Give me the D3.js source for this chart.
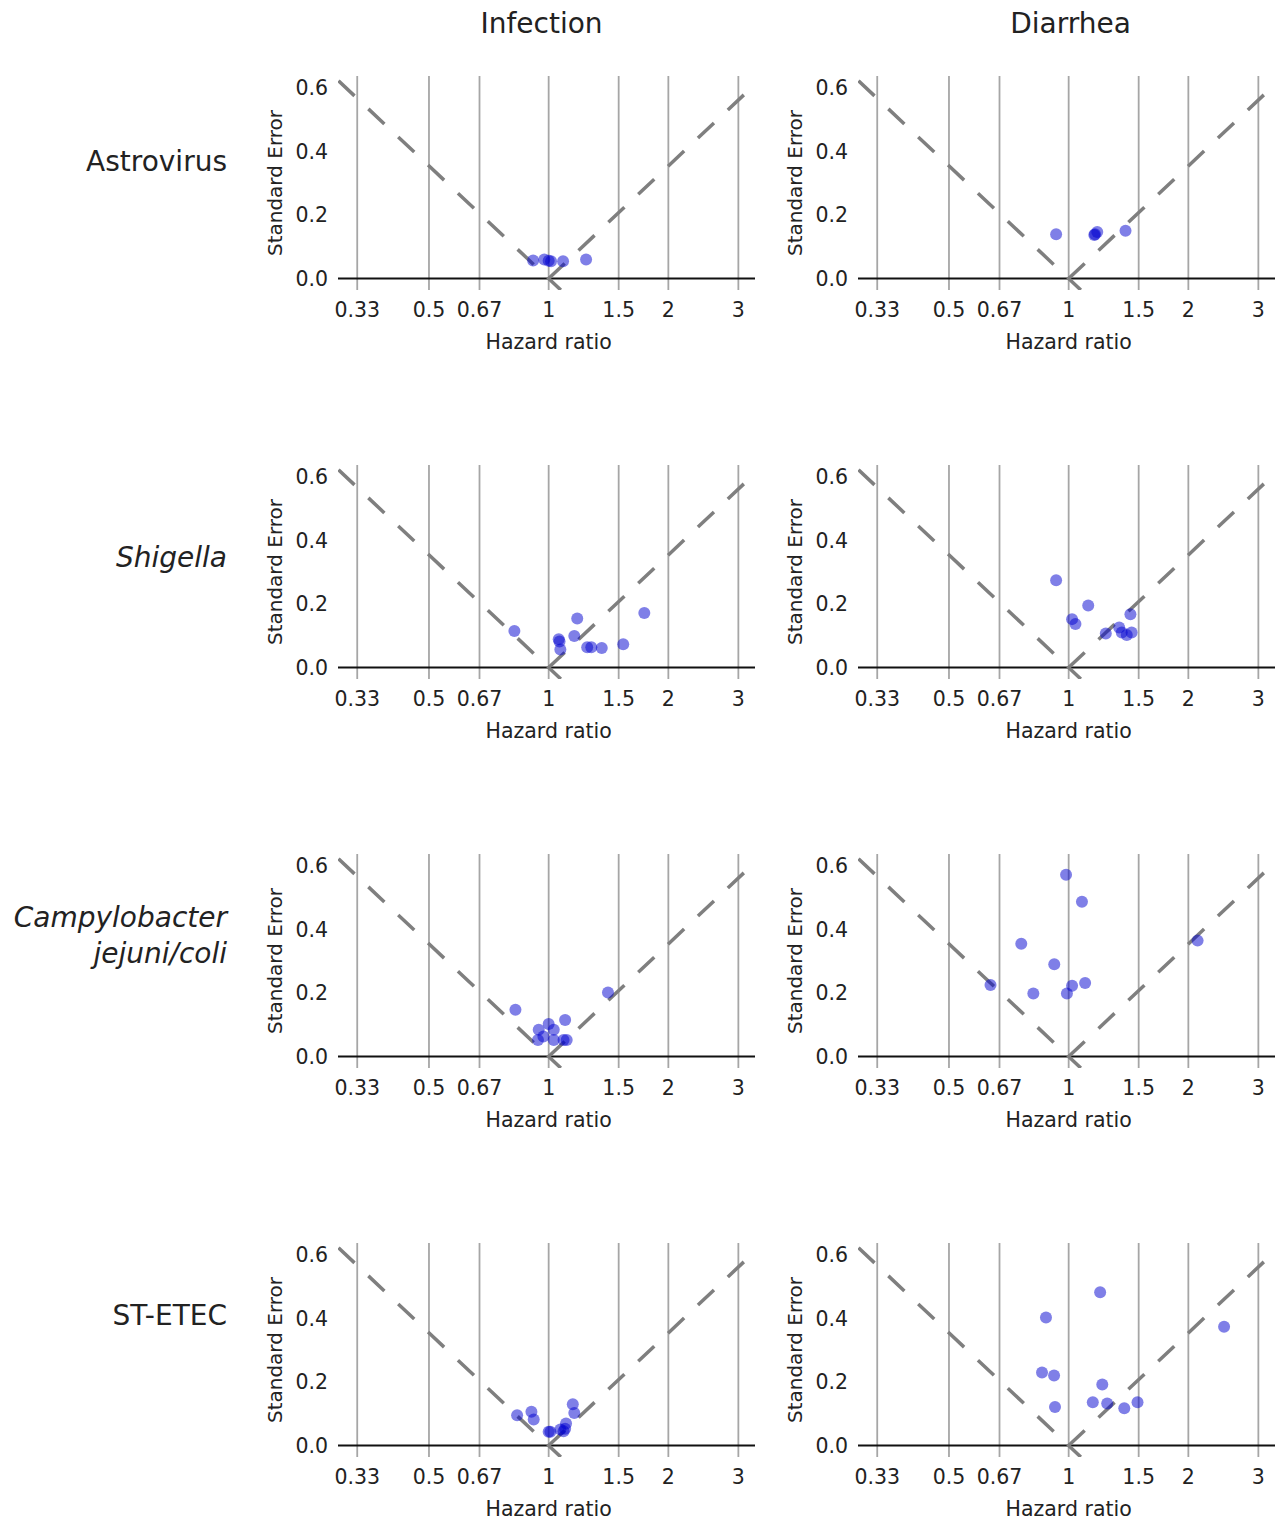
<!DOCTYPE html>
<html>
<head>
<meta charset="utf-8">
<script src="https://cdn.jsdelivr.net/npm/d3@7"></script>
<style>
  body { margin: 0; background: #fff; }
  text { font-family: "DejaVu Sans", Verdana, sans-serif; fill: #222; }
</style>
</head>
<body>
<div id="canvas"></div>
<script>
// rows / columns
var pathogens = [['Astrovirus'], ['Shigella'], ['Campylobacter', 'jejuni/coli'], ['ST-ETEC']];
var italicRow = [false, true, true, false];
var outcomes = ['Infection', 'Diarrhea'];

var xTicks = [0.33, 0.5, 0.67, 1, 1.5, 2, 3];
var xTickLabels = ['0.33', '0.5', '0.67', '1', '1.5', '2', '3'];
var yTicks = [0, 0.2, 0.4, 0.6];

// [hazard ratio, standard error] per panel
var astroInf = [[0.914, 0.057], [0.975, 0.060], [1.0, 0.056], [1.014, 0.054], [1.087, 0.054], [1.242, 0.060]];
var astroDia = [[0.93, 0.139], [1.16, 0.137], [1.165, 0.139], [1.18, 0.146], [1.39, 0.150]];
var shigInf = [[0.82, 0.115], [1.06, 0.089], [1.065, 0.082], [1.07, 0.057], [1.18, 0.154], [1.16, 0.099],
               [1.25, 0.064], [1.28, 0.064], [1.36, 0.061], [1.54, 0.073], [1.74, 0.171]];
var shigDia = [[0.93, 0.274], [1.12, 0.195], [1.02, 0.152], [1.04, 0.137], [1.24, 0.107], [1.34, 0.126],
               [1.36, 0.110], [1.40, 0.102], [1.44, 0.110], [1.43, 0.167]];
var campInf = [[0.825, 0.147], [1.10, 0.115], [1.41, 0.201], [0.944, 0.084], [1.0, 0.102], [1.03, 0.084],
               [0.97, 0.063], [0.94, 0.052], [1.03, 0.052], [1.09, 0.052], [1.11, 0.052]];
var campDia = [[0.985, 0.571], [1.08, 0.486], [0.76, 0.354], [0.92, 0.290], [0.636, 0.225], [0.815, 0.198],
               [0.99, 0.198], [1.02, 0.222], [1.10, 0.231], [2.11, 0.364]];
var etecInf = [[0.833, 0.095], [0.905, 0.106], [0.917, 0.082], [1.15, 0.130], [1.16, 0.102], [1.0, 0.043],
               [1.01, 0.043], [1.07, 0.050], [1.10, 0.053], [1.106, 0.069], [1.09, 0.045]];
var etecDia = [[1.20, 0.481], [0.877, 0.402], [2.46, 0.373], [0.857, 0.229], [0.919, 0.220], [1.215, 0.192],
               [0.924, 0.121], [1.15, 0.136], [1.25, 0.132], [1.38, 0.117], [1.49, 0.136]];

var panels = [[astroInf, astroDia], [shigInf, shigDia], [campInf, campDia], [etecInf, etecDia]];

var W = 1277, H = 1520;
var pw = 417, ph = 214,      // plot area of one panel
    x0 = 338, colStep = 520,
    y0 = 76, rowStep = 389;
var labelNudge = [0, 7, 0, -13];   // row label vertical tweak

var svg = d3.select('#canvas')
    .append('svg')
    .attr('width', W)
    .attr('height', H);

var x = d3.scaleLog().domain([Math.exp(-1.22), Math.exp(1.195)]).range([0, pw]);
var y = d3.scaleLinear().domain([-0.036, 0.636]).range([ph, 0]);

svg.append('defs').append('clipPath').attr('id', 'clip')
    .append('rect').attr('width', pw).attr('height', ph);

// column titles
svg.selectAll('.coltitle')
    .data(outcomes)
    .enter()
    .append('text').attr('class', 'coltitle')
    .attr('x', function(d, i){ return x0 + i * colStep + pw / 2 + (i == 0 ? -5 : 4); })
    .attr('y', 33)
    .attr('text-anchor', 'middle')
    .style('font-size', '28px')
    .text(function(d){ return d; });

pathogens.forEach(function(lines, r){
    var top = y0 + r * rowStep;

    // row label
    var lab = svg.append('text')
        .attr('text-anchor', 'end')
        .attr('x', 227)
        .attr('y', top + y(0) - 108 - (lines.length - 1) * 22 + labelNudge[r])
        .style('font-size', '28px')
        .style('font-style', italicRow[r] ? 'italic' : 'normal');
    lab.selectAll('tspan')
        .data(lines)
        .enter()
        .append('tspan')
        .attr('x', 227)
        .attr('dy', function(d, i){ return i == 0 ? 0 : 36; })
        .text(function(d){ return d; });

    outcomes.forEach(function(o, c){
        var g = svg.append('g')
            .attr('transform', 'translate(' + (x0 + c * colStep) + ',' + top + ')');

        // vertical grid lines
        g.selectAll('.grid')
            .data(xTicks)
            .enter()
            .append('line').attr('class', 'grid')
            .attr('x1', function(d){ return x(d); })
            .attr('x2', function(d){ return x(d); })
            .attr('y1', 0)
            .attr('y2', ph)
            .attr('stroke', '#a6a6a6')
            .attr('stroke-width', 1.8);

        // zero line
        g.append('line')
            .attr('x1', 0).attr('x2', pw)
            .attr('y1', y(0)).attr('y2', y(0))
            .attr('stroke', '#111')
            .attr('stroke-width', 2);

        // funnel: HR = exp(+/- 1.96 * SE)
        var fg = g.append('g').attr('clip-path', 'url(#clip)');
        var seTop = y.domain()[1] + 0.02;
        var funnel = [
            [[Math.exp(-1.96 * 0.621), 0.621], [Math.exp(1.96 * 0.036), -0.036]],
            [[1, 0], [Math.exp(1.96 * seTop), seTop]]
        ];
        fg.selectAll('.funnel')
            .data(funnel)
            .enter()
            .append('line').attr('class', 'funnel')
            .attr('x1', function(d){ return x(d[0][0]); })
            .attr('y1', function(d){ return y(d[0][1]); })
            .attr('x2', function(d){ return x(d[1][0]); })
            .attr('y2', function(d){ return y(d[1][1]); })
            .attr('stroke', '#7f7f7f')
            .attr('stroke-width', 3.5)
            .attr('stroke-dasharray', '22,19');

        // points
        g.selectAll('.pt')
            .data(panels[r][c])
            .enter()
            .append('circle').attr('class', 'pt')
            .attr('cx', function(d){ return x(d[0]); })
            .attr('cy', function(d){ return y(d[1]); })
            .attr('r', 6)
            .attr('fill', '#0000d0')
            .attr('fill-opacity', 0.5);

        // x tick labels
        g.selectAll('.xt')
            .data(xTicks)
            .enter()
            .append('text').attr('class', 'xt')
            .attr('x', function(d){ return x(d); })
            .attr('y', y(0) + 38)
            .attr('text-anchor', 'middle')
            .style('font-size', '20.5px')
            .text(function(d, i){ return xTickLabels[i]; });

        // y tick labels
        g.selectAll('.yt')
            .data(yTicks)
            .enter()
            .append('text').attr('class', 'yt')
            .attr('x', -10)
            .attr('y', function(d){ return y(d); })
            .attr('dy', '0.36em')
            .attr('text-anchor', 'end')
            .style('font-size', '20.5px')
            .text(function(d){ return d3.format('.1f')(d); });

        // axis titles
        g.append('text')
            .attr('x', x(1))
            .attr('y', y(0) + 70)
            .attr('text-anchor', 'middle')
            .style('font-size', '20.5px')
            .text('Hazard ratio');

        g.append('text')
            .attr('transform', 'translate(' + (-56) + ',' + ((y(0) + y(0.6)) / 2) + ') rotate(-90)')
            .attr('text-anchor', 'middle')
            .style('font-size', '20px')
            .text('Standard Error');
    });
});
</script>
</body>
</html>
